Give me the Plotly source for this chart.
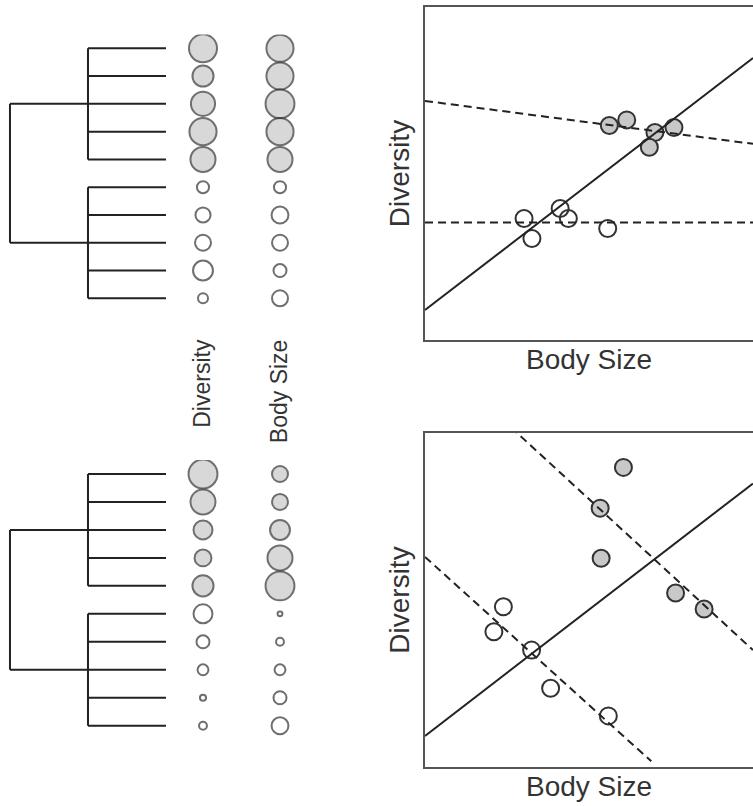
import plotly.graph_objects as go

W, H = 753, 806

# ---------------- data ----------------
trait_labels = ["Diversity", "Body Size"]
clade_of_leaf = ["A", "A", "A", "A", "A", "B", "B", "B", "B", "B"]
clade_groups = [[0, 1, 2, 3, 4], [5, 6, 7, 8, 9]]

# trait values shown as circle sizes (top tree / bottom tree)
top_diversity = [10.0, 7.7, 8.7, 9.7, 9.0, 4.7, 5.7, 6.0, 7.3, 4.0]
top_body_size = [9.7, 9.7, 10.3, 9.7, 9.0, 4.7, 6.3, 6.0, 5.0, 6.0]
bot_diversity = [10.3, 9.0, 7.0, 6.3, 7.7, 7.0, 5.0, 4.3, 2.7, 3.3]
bot_body_size = [6.0, 6.0, 7.3, 9.0, 10.3, 2.3, 3.3, 4.3, 5.0, 6.3]

# scatter panels (body size, diversity); first five = clade A (grey), last five = clade B (open)
top_sc_body = [5.62, 6.15, 7.01, 7.59, 6.84, 3.02, 3.26, 4.12, 4.37, 5.57]
top_sc_div = [6.44, 6.61, 6.23, 6.38, 5.79, 3.65, 3.05, 3.95, 3.65, 3.35]
bot_sc_body = [6.05, 5.34, 5.37, 7.64, 8.51, 2.39, 2.10, 3.25, 3.83, 5.59]
bot_sc_div = [8.97, 7.75, 6.25, 5.21, 4.73, 4.80, 4.05, 3.50, 2.36, 1.53]

# regression lines: (intercept, slope, x_start, x_end)
top_fit_all = (0.90, 0.757, 0, 10)
top_fit_A = (7.18, -0.129, 0, 10)
top_fit_B = (3.53, 0.0, 0, 10)
bot_fit_all = (0.93, 0.756, 0, 10)
bot_fit_A = (12.54, -0.904, 0, 10)
bot_fit_B = (6.29, -0.887, 0, 6.9)

# ---------------- styles ----------------
FONT = "Liberation Sans, Arial, sans-serif"
TXT = "#333333"
EDGE = "#333333"
GREY = "#c8c8c8"
LINE = "#222222"
FRAME = "#555555"
SIZE_SCALE = 3.0


def px_x(p):
    return p / W


def px_y(p):
    return 1 - p / H


fig = go.Figure()


def tree_segments(groups):
    xs, ys = [], []
    mids = []
    for g in groups:
        xs += [1, 1, None]
        ys += [min(g), max(g), None]
        for leaf in g:
            xs += [1, 2, None]
            ys += [leaf, leaf, None]
        mids.append(sorted(g)[len(g) // 2])
    xs += [0, 0, None]
    ys += [mids[0], mids[-1], None]
    for m in mids:
        xs += [0, 1, None]
        ys += [m, m, None]
    return xs, ys


def add_tree(xa, ya, groups):
    xs, ys = tree_segments(groups)
    fig.add_trace(go.Scatter(x=xs, y=ys, mode="lines", xaxis=xa, yaxis=ya,
                             line=dict(color=LINE, width=2), hoverinfo="skip",
                             showlegend=False))


def add_circles(xa, ya, values, col):
    fills = [GREY if c == "A" else "white" for c in clade_of_leaf]
    fig.add_trace(go.Scatter(x=[col] * len(values), y=list(range(len(values))),
                             mode="markers", xaxis=xa, yaxis=ya,
                             marker=dict(size=[SIZE_SCALE * v - 2 for v in values],
                                         color=fills, line=dict(color=EDGE, width=2)),
                             showlegend=False, hoverinfo="skip"))


def add_scatter_panel(xa, ya, bx, dy, fits):
    fills = [GREY if c == "A" else "rgba(0,0,0,0)" for c in clade_of_leaf]
    fig.add_trace(go.Scatter(x=bx, y=dy, mode="markers", xaxis=xa, yaxis=ya,
                             marker=dict(size=17, color=fills, line=dict(color=EDGE, width=2)),
                             showlegend=False, hoverinfo="skip"))
    for (b0, b1, x0, x1), dash in fits:
        xs = [x0, x1]
        ys = [b0 + b1 * x for x in xs]
        fig.add_trace(go.Scatter(x=xs, y=ys, mode="lines", xaxis=xa, yaxis=ya,
                                 line=dict(color=LINE, width=2, dash=dash),
                                 showlegend=False, hoverinfo="skip"))


# top tree + circles
add_tree("x", "y", clade_groups)
add_circles("x2", "y", top_diversity, 0)
add_circles("x2", "y", top_body_size, 1)
# bottom tree + circles
add_tree("x3", "y3", clade_groups)
add_circles("x4", "y3", bot_diversity, 0)
add_circles("x4", "y3", bot_body_size, 1)
# scatter panels
add_scatter_panel("x5", "y5", top_sc_body, top_sc_div,
                  [(top_fit_all, "solid"), (top_fit_A, "8px,5px"), (top_fit_B, "8px,5px")])
add_scatter_panel("x6", "y6", bot_sc_body, bot_sc_div,
                  [(bot_fit_all, "solid"), (bot_fit_A, "8px,5px"), (bot_fit_B, "8px,5px")])

hidden = dict(showgrid=False, zeroline=False, showticklabels=False, ticks="", showline=False)

tree_x_dom = [0, px_x(166)]
tree_x_rng = [-0.128, 2]
circ_x_dom = [px_x(164.5), px_x(318.5)]
circ_x_rng = [-0.5, 1.5]

fig.update_layout(
    width=W, height=H, margin=dict(l=0, r=0, t=0, b=0),
    paper_bgcolor="white", plot_bgcolor="rgba(0,0,0,0)",
    font=dict(family=FONT, color=TXT),
    xaxis=dict(domain=tree_x_dom, range=tree_x_rng, anchor="y", **hidden),
    yaxis=dict(domain=[px_y(312.2), px_y(34.4)], range=[9.5, -0.5], anchor="x", **hidden),
    xaxis2=dict(domain=circ_x_dom, range=circ_x_rng, anchor="free", position=px_y(334),
                showgrid=False, zeroline=False, showline=False, ticks="",
                tickvals=[0, 1], ticktext=trait_labels, tickangle=-90,
                tickfont=dict(family=FONT, size=23, color=TXT)),
    xaxis3=dict(domain=tree_x_dom, range=tree_x_rng, anchor="y3", **hidden),
    yaxis3=dict(domain=[px_y(739.7), px_y(460.0)], range=[9.5, -0.5], anchor="x3", **hidden),
    xaxis4=dict(domain=circ_x_dom, range=circ_x_rng, anchor="y3", **hidden),
    xaxis5=dict(domain=[px_x(425), 1], range=[0, 10], anchor="y5",
                showgrid=False, zeroline=False, showticklabels=False, ticks="",
                showline=True, mirror=True, linecolor=FRAME, linewidth=2,
                title=dict(text="Body Size", standoff=8, font=dict(size=28, color=TXT))),
    yaxis5=dict(domain=[px_y(340), px_y(7)], range=[0, 10], anchor="x5",
                showgrid=False, zeroline=False, showticklabels=False, ticks="",
                showline=True, mirror=False, linecolor=FRAME, linewidth=2,
                title=dict(text="Diversity", standoff=5, font=dict(size=28, color=TXT))),
    xaxis6=dict(domain=[px_x(425), 1], range=[0, 10], anchor="y6",
                showgrid=False, zeroline=False, showticklabels=False, ticks="",
                showline=True, mirror=True, linecolor=FRAME, linewidth=2,
                title=dict(text="Body Size", standoff=8, font=dict(size=28, color=TXT))),
    yaxis6=dict(domain=[px_y(767), px_y(433)], range=[0, 10], anchor="x6",
                showgrid=False, zeroline=False, showticklabels=False, ticks="",
                showline=True, mirror=False, linecolor=FRAME, linewidth=2,
                title=dict(text="Diversity", standoff=5, font=dict(size=28, color=TXT))),
)

fig.write_html("out.html")
